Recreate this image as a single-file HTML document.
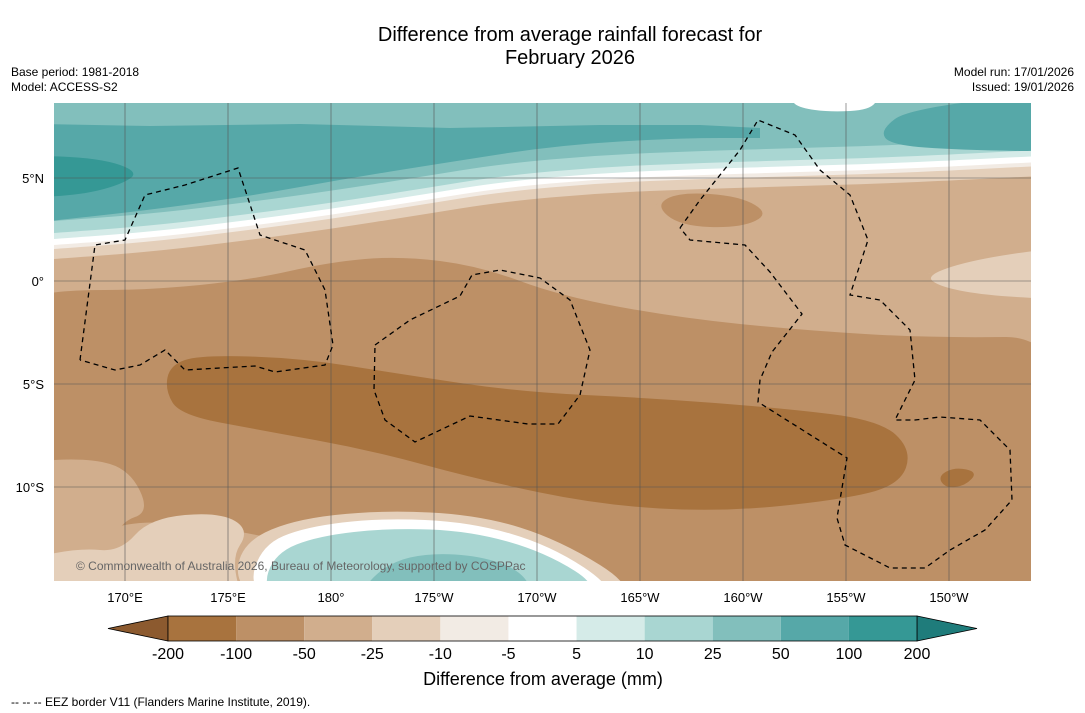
<!DOCTYPE html>
<html><head><meta charset="utf-8"><style>
body{margin:0;background:#fff;width:1085px;height:713px;overflow:hidden;font-family:"Liberation Sans","DejaVu Sans",sans-serif}
svg{display:block}
</style></head><body>
<svg id="c" width="1085" height="713" xmlns="http://www.w3.org/2000/svg">
<text x="570" y="41" font-size="20" text-anchor="middle">Difference from average rainfall forecast for</text>
<text x="570" y="64" font-size="20" text-anchor="middle">February 2026</text>
<text x="11" y="76" font-size="12">Base period: 1981-2018</text>
<text x="11" y="91" font-size="12">Model: ACCESS-S2</text>
<text x="1074" y="76" font-size="12" text-anchor="end">Model run: 17/01/2026</text>
<text x="1074" y="91" font-size="12" text-anchor="end">Issued: 19/01/2026</text>
<defs><clipPath id="mc"><rect x="54" y="103" width="977" height="478"/></clipPath></defs>
<g id="map" clip-path="url(#mc)"></g>
<g id="axes"></g>
<g id="cbar"></g>
<text x="543" y="685" font-size="18" text-anchor="middle">Difference from average (mm)</text>
<text x="11" y="706" font-size="12">--  --  -- EEZ border V11 (Flanders Marine Institute, 2019).</text>
</svg>
<script>
const levels=[-200,-100,-50,-25,-10,-5,5,10,25,50,100,200];
const colors=['#a8733e','#bd9066','#d1ae8d','#e4cfba','#f2ebe4','#ffffff','#d5ebe8','#a9d6d2','#82bfbc','#56a8a8','#359895'];
const extLow='#8c5a2f', extHigh='#1f7c7b';
const lonTicks=['170°E','175°E','180°','175°W','170°W','165°W','160°W','155°W','150°W'];
const lonVals=[170,175,180,185,190,195,200,205,210];
const latTicks=['5°N','0°','5°S','10°S'];
const latVals=[5,0,-5,-10];
const NS='http://www.w3.org/2000/svg';
const X=lon=>125+(lon-170)*20.6, Y=lat=>281-lat*20.6;
function mk(t,a,p){const e=document.createElementNS(NS,t);for(const k in a)e.setAttribute(k,a[k]);(p||document.getElementById('c')).appendChild(e);return e;}
const map=document.getElementById('map');
function path(d,fill,name){const e=mk('path',{d:d,fill:fill},map);return e;}
function smooth(pts){let d='M'+pts[0][0]+','+pts[0][1];for(let i=1;i<pts.length;i++){const p0=pts[i-1],p1=pts[i];const mx=(p0[0]+p1[0])/2,my=(p0[1]+p1[1])/2;d+=' Q'+p0[0]+','+p0[1]+' '+mx+','+my;}const l=pts[pts.length-1];return d+' L'+l[0]+','+l[1];}
function blob(pts,fill,name){path(smooth(pts.concat([pts[0],pts[1]]))+'Z',fill,name);}
path('M0,0H1085V713H0Z','#d1ae8d','band-minus50');
const front=[[40,244],[150,236],[250,224],[330,213],[420,199],[500,186],[600,177],[700,173],[800,170],[900,167],[1040,160]];
function above(off,fill,name){const pts=front.map(p=>[p[0],p[1]+off]);path(smooth(pts)+' L1040,90 L40,90Z',fill,name);}
above(16,'#e4cfba','band-minus25');above(6,'#f2ebe4','band-minus10');above(2,'#ffffff','band-neutral');
above(-4,'#d5ebe8','band-plus5');above(-10,'#a9d6d2','band-plus10');above(-22,'#82bfbc','band-plus25');
path(smooth([[40,222],[150,210],[250,196],[350,178],[450,162],[560,145],[680,138],[760,138]])+' L760,128 L700,125 L600,125 L450,128 L300,124 L150,126 L40,124Z','#56a8a8','band-plus50-west');
blob([[880,130],[910,108],[1080,90],[1080,152],[960,150],[890,145]],'#56a8a8','band-plus50-east');
blob([[790,100],[830,96],[880,96],[870,110],[830,112],[800,108]],'#ffffff','white-patch-north');
blob([[20,155],[100,158],[140,172],[120,185],[80,195],[20,198]],'#359895','band-plus100');
blob([[925,275],[980,258],[1080,245],[1080,300],[990,296],[940,287]],'#e4cfba','light-patch-east');
// -100 region
blob([[20,300],[60,290],[150,290],[250,280],[330,262],[400,256],[480,266],[560,296],[680,318],[800,330],[930,338],[1080,336],[1100,650],[820,640],[650,600],[480,580],[360,560],[240,530],[150,520],[100,530],[60,560],[20,620]],'#bd9066','band-minus100');
blob([[655,205],[680,192],[740,196],[770,214],[740,228],[680,226]],'#bd9066','patch-north');
blob([[20,462],[90,458],[130,470],[150,512],[120,522],[110,556],[20,580]],'#d1ae8d','band-sw');
blob([[20,560],[80,548],[120,552],[150,518],[220,512],[250,530],[230,560],[250,620],[20,620]],'#e4cfba','band-sw-light');
blob([[170,365],[200,355],[300,358],[400,374],[520,392],[650,398],[780,408],[880,420],[912,450],[900,485],[840,500],[720,512],[600,505],[480,480],[370,450],[260,430],[180,415],[165,390]],'#a8733e','band-minus200');
blob([[938,476],[955,467],[978,472],[965,486],[945,488]],'#a8733e','patch-se');
blob([[236,590],[240,545],[290,520],[380,510],[480,515],[560,540],[640,590],[600,620],[300,620]],'#e4cfba','south-ring1');
blob([[248,590],[262,545],[305,527],[380,518],[470,522],[550,545],[618,590],[600,620],[300,620]],'#ffffff','south-ring2');
blob([[262,590],[275,553],[318,536],[390,528],[470,531],[545,552],[605,590],[560,620],[300,620]],'#a9d6d2','south-ring3');
blob([[360,590],[390,562],[430,553],[480,556],[520,570],[535,595],[380,600]],'#82bfbc','south-core');
lonVals.forEach(v=>{const e=mk('line',{x1:X(v),x2:X(v),y1:103,y2:581,stroke:'#555','stroke-width':0.6},map);});
latVals.forEach(v=>{const e=mk('line',{x1:54,x2:1031,y1:Y(v),y2:Y(v),stroke:'#555','stroke-width':0.6},map);});
const eez=[
 [[80,360],[95,245],[125,240],[145,195],[185,185],[238,168],[260,235],[305,250],[325,290],[333,345],[325,365],[275,372],[255,366],[185,370],[165,350],[140,365],[115,370],[80,360]],
 [[375,345],[410,320],[460,296],[472,275],[500,270],[540,278],[570,300],[590,350],[580,395],[558,424],[528,424],[470,416],[415,442],[385,420],[374,390],[375,345]],
 [[680,228],[700,200],[740,150],[758,120],[795,135],[820,170],[850,195],[868,240],[850,295],[880,300],[910,330],[915,380],[895,420],[915,420],[940,417],[980,420],[1010,450],[1012,500],[985,530],[950,550],[925,568],[890,568],[845,545],[837,518],[847,458],[758,402],[760,380],[772,352],[802,314],[770,272],[745,245],[690,240],[680,228]]];
eez.forEach(p=>{const e=mk('polyline',{points:p.map(q=>q.join(',')).join(' '),fill:'none',stroke:'#000','stroke-width':1.3,'stroke-dasharray':'5,4'},map);});
const t=mk('text',{x:76,y:570,'font-size':12,fill:'#666'},map);t.textContent='© Commonwealth of Australia 2026, Bureau of Meteorology, supported by COSPPac';

const ax=document.getElementById('axes');
lonVals.forEach((v,i)=>{const e=mk('text',{x:X(v),y:602,'font-size':13,'text-anchor':'middle'},ax);e.textContent=lonTicks[i];});
latVals.forEach((v,i)=>{const e=mk('text',{x:44,y:Y(v)+5,'font-size':13,'text-anchor':'end'},ax);e.textContent=latTicks[i];});
const cb=document.getElementById('cbar');const x0=168,x1=917,cy=616,ch=25,w=(x1-x0)/colors.length;
const tl=mk('polygon',{points:`${x0},${cy} ${x0},${cy+ch} 108,${cy+ch/2}`,fill:extLow,stroke:'#000','stroke-width':0.8},cb);

const tr=mk('polygon',{points:`${x1},${cy} ${x1},${cy+ch} 977,${cy+ch/2}`,fill:extHigh,stroke:'#000','stroke-width':0.8},cb);

colors.forEach((c,i)=>{const r=mk('rect',{x:x0+i*w,y:cy,width:w,height:ch,fill:c},cb);});
const br=mk('rect',{x:x0,y:cy,width:x1-x0,height:ch,fill:'none',stroke:'#000','stroke-width':0.8},cb);
levels.forEach((v,i)=>{const e=mk('text',{x:x0+i*w,y:659,'font-size':16,'text-anchor':'middle'},cb);e.textContent=v;});
</script>
</body></html>
